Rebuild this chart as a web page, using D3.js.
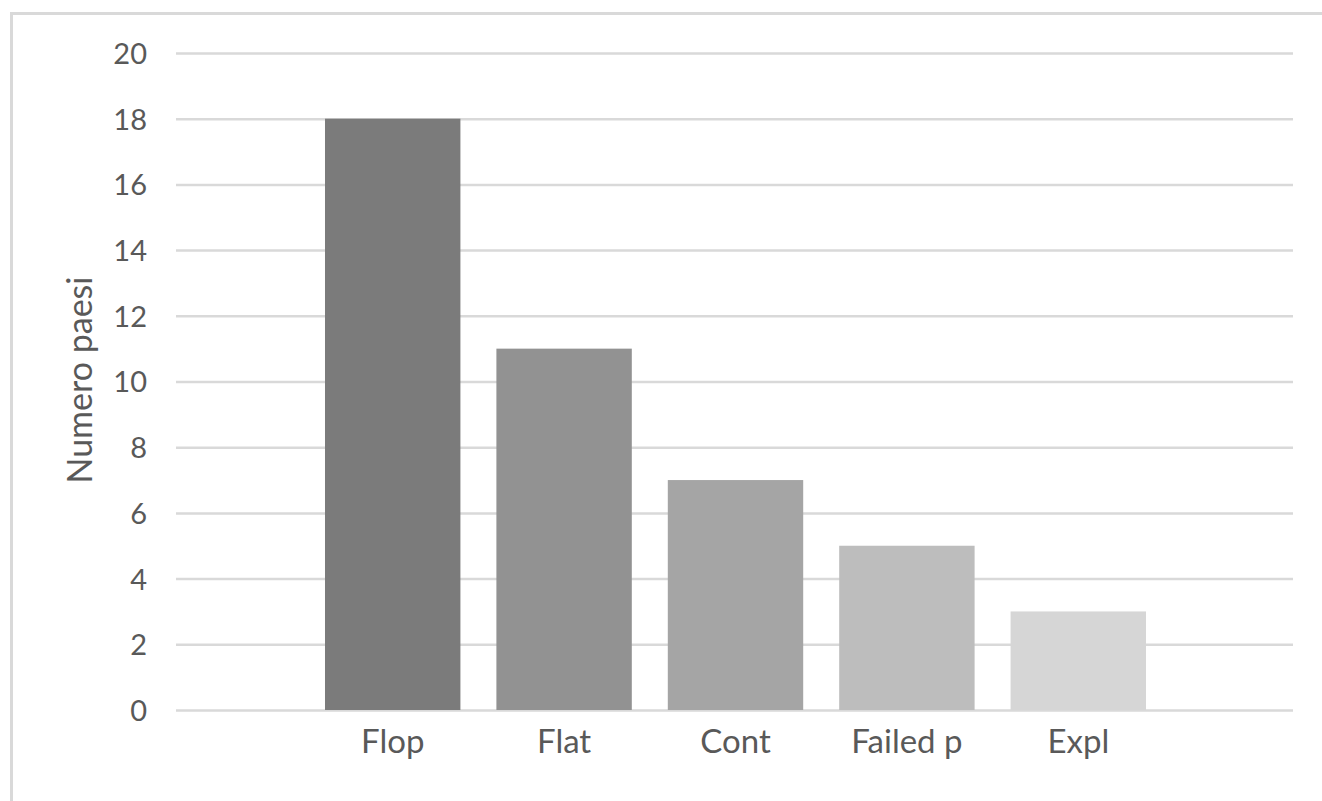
<!DOCTYPE html>
<html>
<head>
<meta charset="utf-8">
<script src="https://cdn.jsdelivr.net/npm/d3@7/dist/d3.min.js"></script>
<style>
  html, body { margin: 0; padding: 0; background: #fff; }
  svg { display: block; }
  text { font-family: Lato, "Open Sans", sans-serif; fill: #595959; }
</style>
</head>
<body>
<svg id="chart" width="1322" height="801"></svg>
<script>
// Category labels and the number of countries in each
const categories = ["Flop", "Flat", "Cont", "Failed p", "Expl"];
const values = [18, 11, 7, 5, 3];
const barColors = ["#7b7b7b", "#929292", "#a5a5a5", "#bdbdbd", "#d6d6d6"];
const yTicks = [0, 2, 4, 6, 8, 10, 12, 14, 16, 18, 20];
const yTitle = "Numero paesi";

const svg = d3.select("#chart");
const W = 1322, H = 801;

// plot area
const plot = { left: 176, right: 1293, top: 53, bottom: 710 };

// chart frame (top and left edges visible)
svg.append("path")
  .attr("d", `M11.5,${H} L11.5,13.5 L${W},13.5`)
  .attr("fill", "none")
  .attr("stroke", "#d9d9d9")
  .attr("stroke-width", 3);

const y = d3.scaleLinear().domain([0, 20]).range([plot.bottom, plot.top]);

const x = d3.scaleBand()
  .domain(categories)
  .range([307, 1164])
  .paddingInner(0.21)
  .paddingOuter(0.105);

// horizontal gridlines
const yAxis = d3.axisLeft(y)
  .tickValues(yTicks)
  .tickSize(-(plot.right - plot.left))
  .tickPadding(29)
  .tickFormat(d3.format("d"));

const gy = svg.append("g")
  .attr("transform", `translate(${plot.left},0)`)
  .call(yAxis);
gy.select(".domain").remove();
gy.selectAll(".tick line")
  .attr("stroke", "#d9d9d9")
  .attr("stroke-width", 2.5);
gy.selectAll(".tick text")
  .attr("font-size", 29)
  .attr("dy", "0.36em")
  .style("fill", "#595959");

// bars
svg.append("g")
  .selectAll("rect")
  .data(categories)
  .join("rect")
  .attr("x", d => x(d))
  .attr("width", x.bandwidth())
  .attr("y", (d, i) => y(values[i]))
  .attr("height", (d, i) => y(0) - y(values[i]))
  .attr("fill", (d, i) => barColors[i]);

// category axis
const xAxis = d3.axisBottom(x).tickSize(0).tickPadding(20);
const gx = svg.append("g")
  .attr("transform", `translate(0,${plot.bottom})`)
  .call(xAxis);
gx.select(".domain").remove();
gx.selectAll(".tick text")
  .attr("font-size", 33)
  .style("fill", "#595959");

// y-axis title
svg.append("text")
  .attr("transform", `translate(92,380) rotate(-90)`)
  .attr("text-anchor", "middle")
  .attr("font-size", 34)
  .text(yTitle);
</script>
</body>
</html>
